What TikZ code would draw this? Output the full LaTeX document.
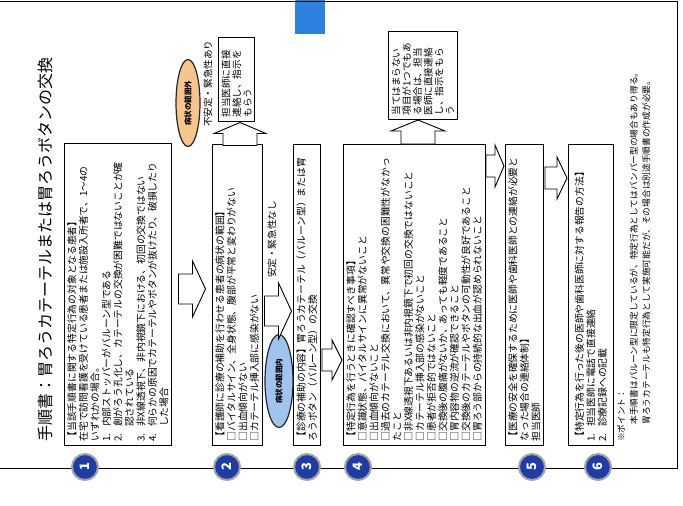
\documentclass[tikz,border=0pt]{standalone}
\usepackage{fontspec}
\setmainfont{Noto Sans CJK JP}
\usetikzlibrary{shapes.geometric}
\definecolor{circblue}{RGB}{30,60,165}
\definecolor{ringgray}{RGB}{165,165,160}
\definecolor{ovalorange}{RGB}{247,196,140}
\definecolor{ovalblue}{RGB}{160,196,238}
\definecolor{tabblue}{RGB}{45,130,225}
\tikzset{
  txtbox/.style={draw=black, line width=0.9pt, fill=white, rotate=90, anchor=north west, align=left, inner xsep=4pt, inner ysep=3pt, font=\fontsize{9.8pt}{11.5pt}\selectfont},
  sidebox/.style={txtbox, font=\fontsize{9.6pt}{10.8pt}\selectfont},
  lbl/.style={rotate=90, anchor=west, inner sep=0pt, font=\fontsize{9.6pt}{11pt}\selectfont},
  oval/.style={ellipse, draw=black!85, line width=1.2pt, rotate=90, inner sep=0pt, font=\bfseries\fontsize{7.5pt}{8pt}\selectfont},
  stepcirc/.style={circle, fill=circblue, draw=ringgray, line width=2pt, minimum size=26pt, inner sep=0pt, text=white, rotate=90, font=\bfseries\fontsize{13pt}{13pt}\selectfont},
  pics/barrow/.style n args={4}{code={
    \draw[line width=0.9pt, fill=white] (-#1/2,-#2) -- (#1/2-#4,-#2) -- (#1/2-#4,-#3) -- (#1/2,0) -- (#1/2-#4,#3) -- (#1/2-#4,#2) -- (-#1/2,#2) -- cycle;}}
}
\begin{document}
\begin{tikzpicture}[x=1pt,y=-1pt]
\useasboundingbox (0,0) rectangle (683,506);
\fill[white] (0,0) rectangle (683,506);
\fill[tabblue] (295,0) rectangle (325,34);
\draw[line width=0.9pt] (0,1.5) -- (677,1.5) -- (677,468) -- (0,468);
% title
\node[rotate=90, anchor=west, inner sep=0pt, font=\fontsize{16pt}{19pt}\selectfont] (title) at (45,442) {手順書：胃ろうカテーテルまたは胃ろうボタンの交換};
% box 1
\node[txtbox, text width=294pt] (b1) at (64,446) {【当該手順書に関する特定行為の対象となる患者】\\
在宅で訪問看護を受けている患者または施設入所者で、1〜4の\\
いずれかの場合。\\
\makebox[1.5em][l]{1.}内部ストッパーがバルーン型である\\
\makebox[1.5em][l]{2.}創がろう孔化し、カテーテルの交換が困難ではないことが確\\
\hspace*{1.5em}認されている\\
\makebox[1.5em][l]{3.}非X線透視下、非内視鏡下における、初回の交換ではない\\
\makebox[1.5em][l]{4.}何らかの原因でカテーテルやボタンが抜けたり、破損したり\\
\hspace*{1.5em}した場合};
% box 2
\node[txtbox, text width=293pt] (b2) at (212,446) {【看護師に診療の補助を行わせる患者の病状の範囲】\\
□バイタルサイン、全身状態、腹部が平常と変わりがない\\
□出血傾向がない\\
□カテーテル挿入部に感染がない};
% side box 2
\node[sidebox, text width=76pt] (s2) at (218,122) {担当医師に直接\\連絡し、指示を\\もらう};
\node[lbl] (unstable) at (208,127) {不安定・緊急性あり};
\node[oval, fill=ovalorange, minimum width=87pt, minimum height=24pt] (outrange) at (188,103) {病状の範囲外};
% box 3
\node[txtbox, text width=293pt] (b3) at (293,446) {【診療の補助の内容】胃ろうカテーテル（バルーン型）または胃\\
ろうボタン（バルーン型）の交換};
\node[lbl] (stable) at (272,278) {安定・緊急性なし};
\node[oval, fill=ovalblue, minimum width=93pt, minimum height=28pt] (inrange) at (279,381) {病状の範囲内};
% box 4
\node[txtbox, text width=293pt] (b4) at (343,446) {【特定行為を行うときに確認すべき事項】\\
□意識状態、バイタルサインに異常がないこと\\
□出血傾向がないこと\\
□過去のカテーテル交換において、異常や交換の困難性がなかっ\\
たこと\\
□非X線透視下あるいは非内視鏡下で初回の交換ではないこと\\
□カテーテル挿入部の感染がないこと\\
□患者が拒否的ではないこと\\
□交換後の腹痛がないか、あっても軽度であること\\
□胃内容物の逆流が確認できること\\
□交換後のカテーテルやボタンの可動性が良好であること\\
□胃ろう部からの持続的な出血が認められないこと};
% side box 4
\node[sidebox, text width=80pt] (s4) at (388,120) {当てはまらない\\項目が1つでもあ\\る場合は、担当\\医師に直接連絡\\し、指示をもら\\う};
% box 5
\node[txtbox, text width=293pt] (b5) at (505,446) {【医療の安全を確保するために医師や歯科医師との連絡が必要と\\
なった場合の連絡体制】\\
担当医師};
% box 6
\node[txtbox, text width=293pt, minimum height=45pt] (b6) at (568,446) {【特定行為を行った後の医師や歯科医師に対する報告の方法】\\
\makebox[1.5em][l]{1.}担当医師に電話で直接連絡\\
\makebox[1.5em][l]{2.}診療記録への記載};
% notes
\node[rotate=90, anchor=north west, align=left, inner sep=0pt, font=\fontsize{8.7pt}{12.5pt}\selectfont] (notes) at (617,442) {※ポイント：\\
\hspace*{2em}本手順書はバルーン型に限定しているが、特定行為としてはバンパー型の場合もあり得る。\\
\hspace*{2em}胃ろうカテーテルも特定行為として実施可能だが、その場合は別途手順書の作成が必要。};
% block arrows
\pic (a12) at (192,289) {barrow={27}{15}{28}{13}};
\pic (a23) at (278,311) {barrow={27}{15}{28}{13}};
\pic (a34) at (332,360) {barrow={20}{11}{20}{10}};
\pic (a45) at (495,166) {barrow={18}{11}{21}{9}};
\pic (a56) at (556,178) {barrow={22}{11}{21}{10}};
\pic[rotate=90] (u2) at (240,134) {barrow={23}{17}{26}{11}};
\pic[rotate=90] (u4) at (418,132) {barrow={24}{17}{27}{11}};
% step circles
\node[stepcirc] (c1) at (85,467) {1};
\node[stepcirc] (c2) at (227,467) {2};
\node[stepcirc] (c3) at (307,467) {3};
\node[stepcirc] (c4) at (358,467) {4};
\node[stepcirc] (c5) at (532,467) {5};
\node[stepcirc] (c6) at (598,467) {6};
\end{tikzpicture}
\end{document}
